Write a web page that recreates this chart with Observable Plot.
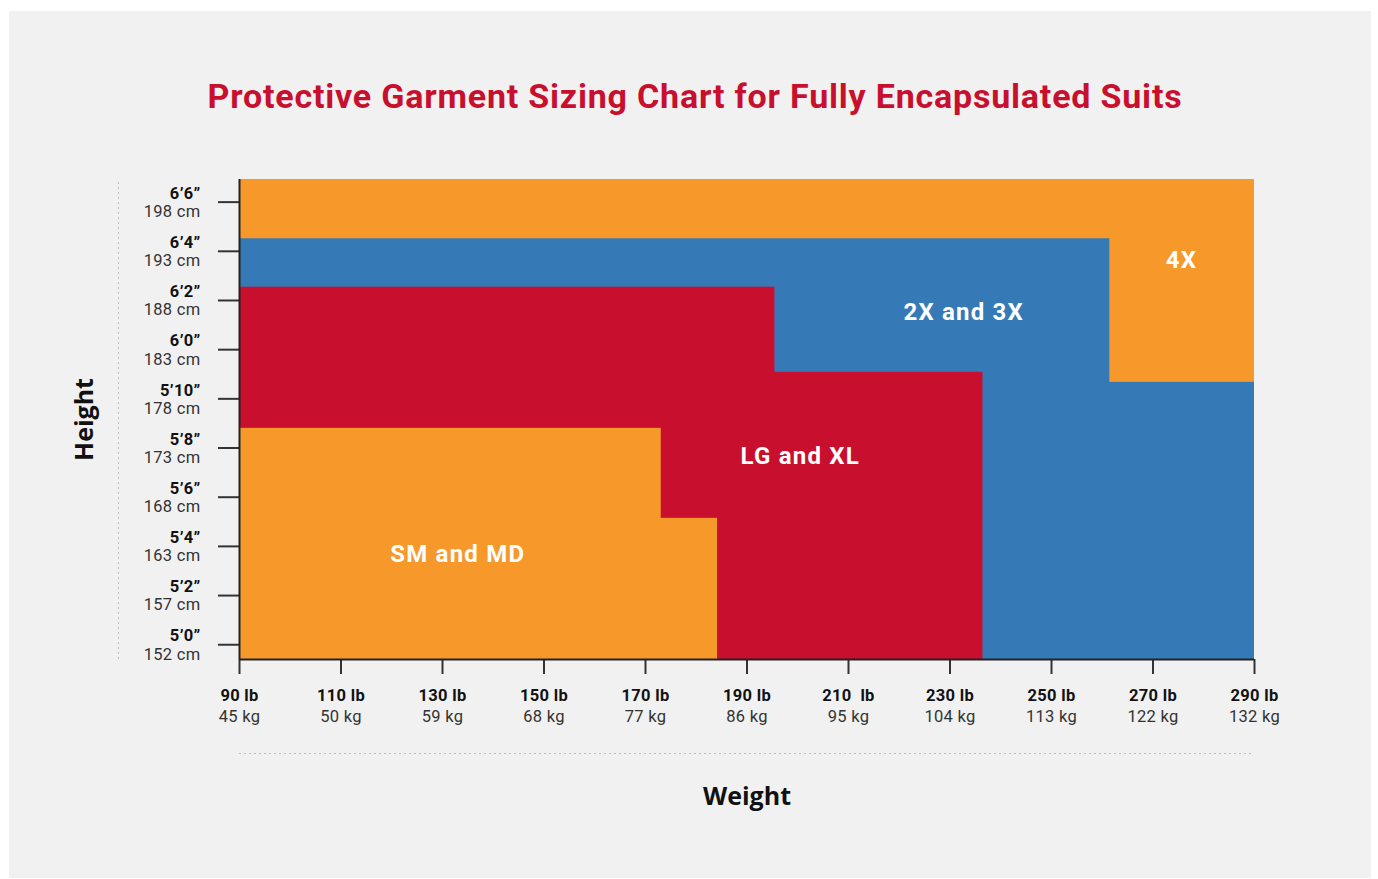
<!DOCTYPE html>
<html>
<head>
<meta charset="utf-8">
<script src="https://cdn.jsdelivr.net/npm/d3@7"></script>
<script src="https://cdn.jsdelivr.net/npm/@observablehq/plot@0.6"></script>
<style>
  html, body { margin: 0; padding: 0; background: #ffffff; }
  body { width: 1378px; height: 879px; position: relative; overflow: hidden; font-family: Roboto, sans-serif; }
  #panel { position: absolute; left: 9px; top: 11px; width: 1362px; height: 867px; background: #f1f1f1; }
  #title { position: absolute; left: 0; top: 79px; width: 1390px; text-align: center; font-family: Roboto; font-weight: 700; font-size: 34px; line-height: 34px; letter-spacing: 0.8px; color: #c8102e; white-space: nowrap; }
  #chart { position: absolute; left: 9px; top: 140px; }
  #chart g[aria-label="y-axis tick label"] tspan:first-child,
  #chart g[aria-label="x-axis tick label"] tspan:first-child { font-weight: 700; fill: #111; }
  #chart g[aria-label="y-axis tick label"] text,
  #chart g[aria-label="x-axis tick label"] text { letter-spacing: 0.3px; }
  #chart g.region-label text { letter-spacing: 1.2px; }
</style>
</head>
<body>
<div id="panel"></div>
<div id="title">Protective Garment Sizing Chart for Fully Encapsulated Suits</div>
<div id="chart"></div>
<script>
// ---- Axis ticks ----
const xTickLb = [90, 110, 130, 150, 170, 190, 210, 230, 250, 270, 290];
const xTickLbText = ["90 lb", "110 lb", "130 lb", "150 lb", "170 lb", "190 lb", "210\u00a0 lb", "230 lb", "250 lb", "270 lb", "290 lb"];
const xTickKg = ["45 kg", "50 kg", "59 kg", "68 kg", "77 kg", "86 kg", "95 kg", "104 kg", "113 kg", "122 kg", "132 kg"];

const yTickIn = [60, 62, 64, 66, 68, 70, 72, 74, 76, 78];
const yTickFt = ["5’0”", "5’2”", "5’4”", "5’6”", "5’8”", "5’10”", "6’0”", "6’2”", "6’4”", "6’6”"];
const yTickCm = ["152 cm", "157 cm", "163 cm", "168 cm", "173 cm", "178 cm", "183 cm", "188 cm", "193 cm", "198 cm"];

// ---- Extents (lb, inches) ----
const weightRange = [90, 290];
const heightRange = [59.4, 78.92];

// ---- Size blocks (L-shaped regions built from stacked rectangles, drawn in order) ----
const blockSize    = ["4X",  "2X and 3X", "2X and 3X", "LG and XL", "LG and XL", "SM and MD", "SM and MD"];
const blockLbFrom  = [90,    90,     90,    90,    90,    90,    90];
const blockLbTo    = [290,   261.5,  290,   195.5, 236.5, 173.1, 184.2];
const blockInFrom  = [59.4,  59.4,   59.4,  59.4,  59.4,  59.4,  59.4];
const blockInTo    = [78.92, 76.51,  70.67, 74.54, 71.08, 68.8,  65.14];

// ---- Region labels ----
const labelNames = ["4X", "2X and 3X", "LG and XL", "SM and MD"];
const labelLb    = [275.6, 232.7, 200.5, 133.0];
const labelIn    = [75.64, 73.52, 67.66, 63.67];

const sizeDomain = ["4X", "2X and 3X", "LG and XL", "SM and MD"];
const sizeColors = ["#f7992a", "#357ab7", "#c8102e", "#f7992a"];

const blocks = blockSize.map((s, i) => ({size: s, x1: blockLbFrom[i], x2: blockLbTo[i], y1: blockInFrom[i], y2: blockInTo[i]}));
const labels = labelNames.map((s, i) => ({name: s, x: labelLb[i], y: labelIn[i]}));

const xLabelMap = new Map(xTickLb.map((v, i) => [v, xTickLbText[i] + "\n" + xTickKg[i]]));
const yLabelMap = new Map(yTickIn.map((v, i) => [v, yTickFt[i] + "\n" + yTickCm[i]]));

const chart = Plot.plot({
  width: 1362,
  height: 738,
  marginLeft: 230,
  marginRight: 117,
  marginTop: 39,
  marginBottom: 219,
  style: {background: "transparent", fontFamily: "Roboto", fontSize: "16.5px", color: "#333"},
  x: {domain: weightRange},
  y: {domain: heightRange},
  color: {domain: sizeDomain, range: sizeColors},
  marks: [
    Plot.rect(blocks, {x1: "x1", x2: "x2", y1: "y1", y2: "y2", fill: "size"}),
    Plot.text(labels, {x: "x", y: "y", text: "name", fill: "white", fontWeight: 700, fontSize: 24, fontFamily: "Roboto", className: "region-label"}),
    Plot.axisX(xTickLb, {tickSize: 15, tickPadding: 11, tickFormat: d => xLabelMap.get(d), stroke: "#333", strokeWidth: 2, fontSize: 16.5, lineHeight: 1.3, fill: "#333", label: null}),
    Plot.axisY(yTickIn, {tickSize: 21, tickPadding: 18, tickFormat: d => yLabelMap.get(d), stroke: "#333", strokeWidth: 2, fontSize: 16.5, lineHeight: 1.1, fill: "#333", label: null}),
    Plot.ruleY([heightRange[0]], {x1: weightRange[0], x2: weightRange[1], stroke: "#222", strokeWidth: 2}),
    Plot.ruleX([weightRange[0]], {y1: heightRange[0], y2: heightRange[1], stroke: "#222", strokeWidth: 2}),
    Plot.ruleX([weightRange[0]], {y1: heightRange[0], y2: heightRange[1], dx: -121, stroke: "#bdbdbd", strokeWidth: 1, strokeDasharray: "2,3"}),
    Plot.ruleY([heightRange[0]], {x1: weightRange[0], x2: weightRange[1], dy: 94, stroke: "#bdbdbd", strokeWidth: 1, strokeDasharray: "2,3"}),
    Plot.text(["Weight"], {frameAnchor: "bottom", lineAnchor: "middle", textAnchor: "middle", dy: 137.5, fontFamily: "Open Sans", fontWeight: 700, fontSize: 25, fill: "#111"}),
    Plot.text(["Height"], {frameAnchor: "left", lineAnchor: "middle", textAnchor: "middle", dx: -154.5, rotate: -90, fontFamily: "Open Sans", fontWeight: 700, fontSize: 25, fill: "#111"})
  ]
});
document.getElementById("chart").appendChild(chart);
</script>
</body>
</html>
